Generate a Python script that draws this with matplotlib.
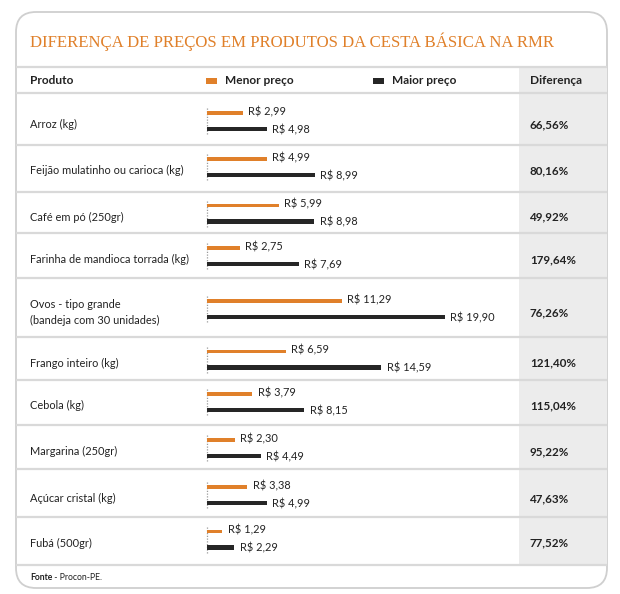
import matplotlib
matplotlib.use("Agg")
import matplotlib.pyplot as plt
from matplotlib.patches import FancyBboxPatch, Rectangle

# ---- data ----
products = ["Arroz (kg)", "Feijão mulatinho ou carioca (kg)", "Café em pó (250gr)",
            "Farinha de mandioca torrada (kg)",
            "Ovos - tipo grande\n(bandeja com 30 unidades)", "Frango inteiro (kg)",
            "Cebola (kg)", "Margarina (250gr)", "Açúcar cristal (kg)", "Fubá (500gr)"]
menor = [2.99, 4.99, 5.99, 2.75, 11.29, 6.59, 3.79, 2.30, 3.38, 1.29]
maior = [4.98, 8.99, 8.98, 7.69, 19.90, 14.59, 8.15, 4.49, 4.99, 2.29]
diferenca = ["66,56%", "80,16%", "49,92%", "179,64%", "76,26%", "121,40%",
             "115,04%", "95,22%", "47,63%", "77,52%"]
title = "DIFERENÇA DE PREÇOS EM PRODUTOS DA CESTA BÁSICA NA RMR"
col_headers = ["Produto", "Menor preço", "Maior preço", "Diferença"]
source_bold = "Fonte"
source_rest = " - Procon-PE."

# ---- layout (pixels) ----
W, H = 620, 594
row_edges = [93, 145, 192, 233, 278, 337, 380, 425, 469, 517, 565]
row_mid = [121, 167, 213.5, 256, 309, 359.5, 402, 448, 495, 539.5]
ORANGE = "#e0802a"
DARK = "#262626"
LINE = "#d9d9d9"
GREYCOL = "#ececec"
TXT = "#222222"
SANS = ["Lato", "DejaVu Sans"]

fig = plt.figure(figsize=(W / 100, H / 100), dpi=100)
ax = fig.add_axes([0, 0, 1, 1])
ax.set_xlim(0, W)
ax.set_ylim(H, 0)
ax.axis("off")

# card
card = FancyBboxPatch((16, 12), 591, 576, boxstyle="round,pad=0,rounding_size=20",
                      facecolor="white", edgecolor="#cfcfcf", linewidth=1.3, zorder=0)
ax.add_patch(card)
# grey column
ax.add_patch(Rectangle((519, 67), 88, row_edges[-1] - 67, facecolor=GREYCOL,
                       edgecolor="none", zorder=1))
# horizontal lines
for y in [67] + row_edges:
    ax.plot([16, 607], [y, y], color=LINE, lw=1.6, zorder=2, solid_capstyle="butt")

# title
ax.text(30, 42, title, color=ORANGE, fontsize=12.1, family="Liberation Serif",
        va="center", ha="left", zorder=3)

# header
hy = 81
ax.text(30, hy, col_headers[0], fontsize=8.6, fontweight="bold", family=SANS,
        va="center", color=TXT, zorder=3)
ax.add_patch(Rectangle((206, hy - 3), 11, 6, facecolor=ORANGE, edgecolor="none", zorder=3))
ax.text(225, hy, col_headers[1], fontsize=8.6, fontweight="bold", family=SANS,
        va="center", color=TXT, zorder=3)
ax.add_patch(Rectangle((373, hy - 3), 11, 6, facecolor=DARK, edgecolor="none", zorder=3))
ax.text(392, hy, col_headers[2], fontsize=8.6, fontweight="bold", family=SANS,
        va="center", color=TXT, zorder=3)
ax.text(530, hy, col_headers[3], fontsize=8.6, fontweight="bold", family=SANS,
        va="center", color=TXT, zorder=3)

# bar axes
x0, x1 = 207, 519
px_per_unit = 11.96
bax = fig.add_axes([x0 / W, (H - row_edges[-1]) / H, (x1 - x0) / W,
                    (row_edges[-1] - row_edges[0]) / H])
bax.set_xlim(0, (x1 - x0) / px_per_unit)
bax.set_ylim(row_edges[-1], row_edges[0])
bax.axis("off")
bax.patch.set_alpha(0)

y_or = [m - 8 for m in row_mid]
y_bl = [m + 8 for m in row_mid]
bax.barh(y_or, menor, height=3.6, color=ORANGE, left=0, zorder=3)
bax.barh(y_bl, maior, height=4.2, color=DARK, left=0, zorder=3)
for yo, yb in zip(y_or, y_bl):
    bax.plot([0, 0], [yo - 5, yb + 5], color="#9a9a9a", lw=0.9, ls=(0, (1, 1.2)),
             zorder=2, clip_on=False)

def fmt(v):
    return "R$ " + f"{v:.2f}".replace(".", ",")

for v, y in zip(menor, y_or):
    bax.text(v + 0.45, y - 1.5, fmt(v), fontsize=7.9, family=SANS, va="center",
             color=TXT, clip_on=False)
for v, y in zip(maior, y_bl):
    bax.text(v + 0.45, y + 0.5, fmt(v), fontsize=7.9, family=SANS, va="center",
             color=TXT, clip_on=False)

# product names and differences
for name, d, m in zip(products, diferenca, row_mid):
    ax.text(30, m + 3.5, name, fontsize=7.9, family=SANS, va="center", ha="left",
            color=TXT, linespacing=1.45, zorder=3)
    ax.text(530, m + 3.5, d, fontsize=8.4, fontweight="bold", family=SANS,
            va="center", ha="left", color=TXT, zorder=3)

# source
t = ax.text(30, 578, source_bold, fontsize=6.2, fontweight="bold", family=SANS,
            va="center", color=TXT, zorder=3)
ax.annotate(source_rest, xycoords=t, xy=(1, 0.5), va="center", fontsize=6.2,
            family=SANS, color=TXT)

fig.savefig("out.png", dpi=100, facecolor="white")
